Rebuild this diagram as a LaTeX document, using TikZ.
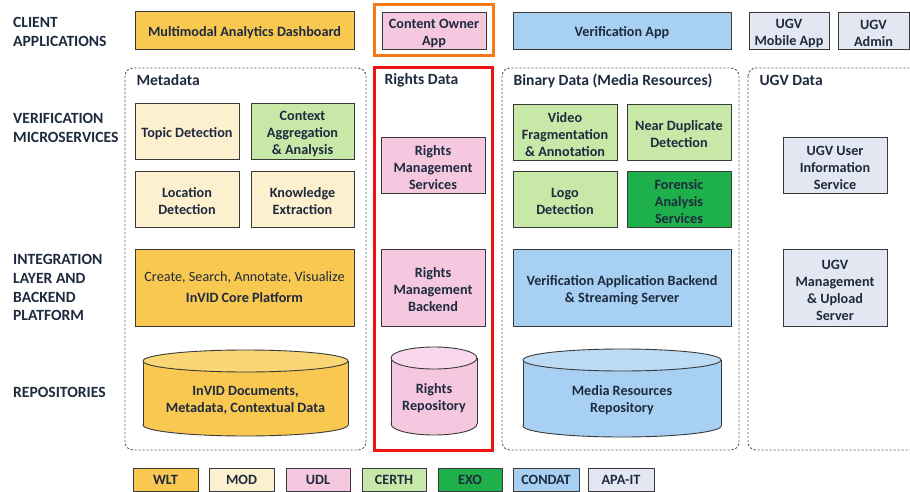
\documentclass[tikz,border=0pt]{standalone}
\usepackage{fontspec}
\setmainfont{Carlito}
% strut that lowers box text a little, as in the original slide layout
\newcommand\lowtop{\rule{0pt}{14.6pt}}
\begin{document}
\begin{tikzpicture}[x=1pt,y=-1pt,
  every node/.style={font=\bfseries\fontsize{14.2}{17}\selectfont, text=txt},
  box/.style={draw=edge, line width=0.9pt, align=center, inner sep=1pt},
  group/.style={draw=grp, line width=0.9pt, dash pattern=on 2.2pt off 1.8pt, rounded corners=8pt},
  grouplabel/.style={anchor=west, font=\bfseries\fontsize{15.6}{18}\selectfont},
  layer/.style={anchor=north west, align=left, inner sep=0pt, font=\bfseries\fontsize{15.6}{18.8}\selectfont},
  legend/.style={box, minimum height=23, font=\bfseries\fontsize{14.2}{16}\selectfont},
]
\definecolor{txt}{HTML}{1E2A3E}
\definecolor{edge}{HTML}{3A3A3A}
\definecolor{grp}{HTML}{555555}
\definecolor{wlt}{HTML}{F9C851}
\definecolor{wltlt}{HTML}{FAD676}
\definecolor{mod}{HTML}{FCF0CF}
\definecolor{udl}{HTML}{F5C8E0}
\definecolor{udllt}{HTML}{F8D8EA}
\definecolor{certh}{HTML}{C8E8A8}
\definecolor{exo}{HTML}{1EB04A}
\definecolor{condat}{HTML}{A8D0F2}
\definecolor{condatlt}{HTML}{BCDCF6}
\definecolor{apa}{HTML}{E3E7F1}
\definecolor{ownerorange}{HTML}{F97A12}
\definecolor{rightsred}{HTML}{EE1414}

\useasboundingbox (0,0) rectangle (910,492);
\clip (0,0) rectangle (910,492);

% cylinder: #1 name, #2 fill, #3 top fill, #4 x1, #5 x2, #6 y top, #7 y bottom, #8 text
\newcommand\repodrum[8]{%
  \pgfmathsetmacro\cxm{(#4+#5)/2}%
  \pgfmathsetmacro\rxm{(#5-#4)/2}%
  \filldraw[fill=#2, draw=edge, line width=0.9pt] (\cxm,#7-11) ellipse [x radius=\rxm, y radius=11];
  \fill[#2] (#4,#6+11) rectangle (#5,#7-11);
  \draw[edge, line width=0.9pt] (#4,#6+11) -- (#4,#7-11) (#5,#6+11) -- (#5,#7-11);
  \filldraw[fill=#3, draw=edge, line width=0.9pt] (\cxm,#6+11) ellipse [x radius=\rxm, y radius=11];
  \node[align=center] (#1) at (\cxm,{(#6+#7)/2+7}) {#8};
}

% layer captions
\node[layer] (lclient) at (13,17) {CLIENT\\APPLICATIONS};
\node[layer] (lverif) at (13,113) {VERIFICATION\\MICROSERVICES};
\node[layer] (linteg) at (13,254) {INTEGRATION\\LAYER AND\\BACKEND\\PLATFORM};
\node[layer] (lrepo) at (13,387) {REPOSITORIES};

% groups
\draw[group] (125,68) rectangle (366,450);
\node[grouplabel] (gmeta) at (133,80.5) {Metadata};
\draw[rightsred, line width=3pt] (374.5,68) rectangle (492,450);
\node[grouplabel] (grights) at (381,80.5) {Rights Data};
\draw[group] (502,68) rectangle (739,450);
\node[grouplabel] (gbin) at (510,80.5) {Binary Data (Media Resources)};
\draw[group] (748,68) rectangle (930,450);
\node[grouplabel] (gugv) at (756,80.5) {UGV Data};

% client applications
\node[box, fill=wlt, minimum width=219, minimum height=38] (mad) at (244.5,30) {\lowtop Multimodal Analytics Dashboard};
\draw[ownerorange, line width=3.5pt] (374.5,4.5) rectangle (493.5,55.5);
\node[box, fill=udl, minimum width=104, minimum height=37] (coa) at (434,30.5) {\lowtop Content Owner\\App};
\node[box, fill=condat, minimum width=218, minimum height=37] (vapp) at (622,30.5) {\lowtop Verification App};
\node[box, fill=apa, minimum width=80, minimum height=37] (ugvm) at (789,30.5) {\lowtop UGV\\Mobile App};
\node[box, fill=apa, minimum width=71, minimum height=37] (ugva) at (873.5,30.5) {\lowtop UGV\\Admin};

% verification microservices
\node[box, fill=mod, minimum width=104, minimum height=56] (td) at (187,131) {\lowtop Topic Detection};
\node[box, fill=certh, minimum width=103, minimum height=56] (caa) at (302.5,131) {\lowtop Context\\Aggregation\\\& Analysis};
\node[box, fill=mod, minimum width=104, minimum height=56] (ld) at (187,199) {\lowtop Location\\Detection};
\node[box, fill=mod, minimum width=103, minimum height=56] (ke) at (302.5,199) {\lowtop Knowledge\\Extraction};
\node[box, fill=udl, minimum width=104, minimum height=56] (rms) at (433,165) {\lowtop Rights\\Management\\Services};
\node[box, fill=certh, minimum width=104, minimum height=56] (vfa) at (565,132) {\lowtop Video\\Fragmentation\\\& Annotation};
\node[box, fill=certh, minimum width=104, minimum height=56] (ndd) at (679,132) {\lowtop Near Duplicate\\Detection};
\node[box, fill=certh, minimum width=104, minimum height=56] (logo) at (565,199) {\lowtop Logo\\Detection};
\node[box, fill=exo, minimum width=104, minimum height=56] (fas) at (679,199) {\lowtop Forensic\\Analysis\\Services};
\node[box, fill=apa, minimum width=104, minimum height=56] (ugvu) at (835,165) {\lowtop UGV User\\Information\\Service};

% integration layer and backend platform
\node[box, fill=wlt, minimum width=219, minimum height=77] (core) at (244.5,287.5)
  {{\mdseries Create, Search, Annotate, Visualize}\\[4pt]InVID Core Platform};
\node[box, fill=udl, minimum width=104, minimum height=77] (rmb) at (433,287.5) {\lowtop Rights\\Management\\Backend};
\node[box, fill=condat, minimum width=218, minimum height=77] (vab) at (622,287.5) {\lowtop Verification Application Backend\\\& Streaming Server};
\node[box, fill=apa, minimum width=104, minimum height=77] (ugvs) at (835,287.5) {\lowtop UGV\\Management\\\& Upload\\Server};

% repositories
\repodrum{invid}{wlt}{wltlt}{143}{348}{350}{436}{InVID Documents,\\Metadata, Contextual Data}
\repodrum{rrepo}{udl}{udllt}{391}{477}{347}{435}{Rights\\Repository}
\repodrum{mrepo}{condat}{condatlt}{523}{721}{349}{437}{Media Resources\\Repository}

% partner legend
\node[legend, fill=wlt, minimum width=65] (kwlt) at (165.5,479.5) {WLT};
\node[legend, fill=mod, minimum width=65] (kmod) at (241.5,479.5) {MOD};
\node[legend, fill=udl, minimum width=64] (kudl) at (318,479.5) {UDL};
\node[legend, fill=certh, minimum width=64] (kcerth) at (394,479.5) {CERTH};
\node[legend, fill=exo, minimum width=64] (kexo) at (470,479.5) {EXO};
\node[legend, fill=condat, minimum width=66] (kcondat) at (546,479.5) {CONDAT};
\node[legend, fill=apa, minimum width=66] (kapa) at (621,479.5) {APA-IT};
\end{tikzpicture}
\end{document}
